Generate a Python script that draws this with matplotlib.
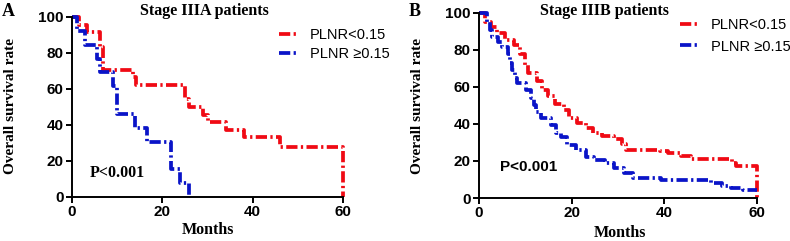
import matplotlib
matplotlib.use('Agg')
import matplotlib.pyplot as plt

# Panel A - Stage IIIA (Kaplan-Meier steps)
a_low_t = [0, 1.5, 3.3, 6.2, 6.9, 13.5, 14.2, 25, 25.8, 29, 30, 34, 38, 46, 60]
a_low_s = [100, 95.8, 91.7, 83.3, 70.8, 66.7, 62.5, 54.2, 50, 45.8, 41.7, 37.5, 33.3, 27.8, 0]
a_high_t = [0, 1.2, 2.9, 5.5, 6.2, 9.1, 9.9, 13.9, 16.7, 21.9, 23.9, 25.9]
a_high_s = [100, 92.3, 84.6, 76.9, 69.2, 61.5, 46.2, 38.5, 30.8, 15.4, 7.7, 0]

# Panel B - Stage IIIB
b_low_t = [0, 1.4, 2.5, 3.8, 5.6, 7.5, 8.8, 10.0, 10.6, 12.5, 13.7, 14.8, 16.5,
           18.3, 19.4, 21.2, 23.1, 24.7, 26.5, 29.2, 30.9, 31.8, 39, 40.8, 43.5,
           45.8, 54.5, 55.5, 60]
b_low_s = [100, 95, 92.6, 89, 85.4, 82.7, 78, 72, 67.6, 63, 58.4, 55, 51,
           47.6, 43, 40.5, 37.8, 35, 33.3, 32, 29, 26, 25.4, 24.3, 22.7,
           21, 19, 17.3, 0]
b_high_t = [0, 1.8, 2.3, 2.8, 4.0, 5.0, 6.2, 6.6, 7.2, 7.8, 8.3, 10.2, 11.2,
            11.8, 12.2, 13.3, 15.5, 16.7, 17.8, 19.0, 21.0, 23.0, 24.8, 27.2,
            29.2, 31.2, 33.2, 39.2, 50.0, 52.5, 54.3, 57.0, 60]
b_high_s = [100, 95, 91, 87, 84.5, 81.6, 78, 73, 69, 65, 62, 58.4, 54,
            50, 46.5, 43, 39.5, 35, 33, 28.6, 26, 22.4, 20.5, 19,
            16, 13.5, 10.8, 9.7, 8, 6.5, 5.4, 4.3, 4.3]

labels = ['PLNR<0.15', 'PLNR \u22650.15']
xticks = [0, 20, 40, 60]
yticks = [0, 20, 40, 60, 80, 100]

RED = '#f00a14'
BLUE = '#0a14c8'
DASH = (0, (3.0, 0.9, 0.6, 0.9))

W, H = 790, 241
fig = plt.figure(figsize=(W / 100, H / 100), dpi=100)


def px(x, y):
    return x / W, 1 - y / H


def setup(ax):
    ax.set_xlim(0, 60)
    ax.set_ylim(0, 100)
    ax.set_xticks(xticks)
    ax.set_yticks(yticks)
    for s in ['top', 'right']:
        ax.spines[s].set_visible(False)
    for s in ['left', 'bottom']:
        ax.spines[s].set_linewidth(1.4)
    ax.tick_params(direction='out', length=4, width=1.4, pad=2)
    for lab in ax.get_xticklabels() + ax.get_yticklabels():
        lab.set_fontfamily('Liberation Sans')
        lab.set_fontweight('bold')
        lab.set_fontsize(11)


# panel A
axA = fig.add_axes([72 / W, 1 - 197 / H, (343 - 72) / W, (197 - 17) / H])
l1, = axA.step(a_low_t, a_low_s, where='post', color=RED, lw=2.7, ls=DASH, clip_on=False)
l2, = axA.step(a_high_t, a_high_s, where='post', color=BLUE, lw=2.7, ls=DASH, clip_on=False)
setup(axA)
axA.legend([l1, l2], labels, loc='upper left', bbox_to_anchor=px(272, 21),
           bbox_transform=fig.transFigure, frameon=False, handlelength=1.3,
           handletextpad=0.8, labelspacing=0.35, borderpad=0,
           prop={'family': 'Liberation Sans', 'size': 10.5})

# panel B
axB = fig.add_axes([479 / W, 1 - 198 / H, (757 - 479) / W, (198 - 13) / H])
m1, = axB.step(b_low_t, b_low_s, where='post', color=RED, lw=2.7, ls=DASH, clip_on=False)
m2, = axB.step(b_high_t, b_high_s, where='post', color=BLUE, lw=2.7, ls=DASH, clip_on=False)
setup(axB)
axB.legend([m1, m2], labels, loc='upper left', bbox_to_anchor=px(673, 11),
           bbox_transform=fig.transFigure, frameon=False, handlelength=1.3,
           handletextpad=0.8, labelspacing=0.5, borderpad=0,
           prop={'family': 'Liberation Sans', 'size': 10.5})

serif = dict(family='Liberation Serif', weight='bold')

fig.text(*px(2, 12), 'A', fontsize=13, ha='left', va='center', **serif)
fig.text(*px(409, 11), 'B', fontsize=13, ha='left', va='center', **serif)
fig.text(*px(204, 11), 'Stage IIIA patients', fontsize=11.5, ha='center', va='center', **serif)
fig.text(*px(604, 11), 'Stage IIIB patients', fontsize=11.5, ha='center', va='center', **serif)
fig.text(*px(11, 106), 'Overall survival rate', fontsize=11, rotation=90,
         ha='center', va='center', **serif)
fig.text(*px(417, 106), 'Overall survival rate', fontsize=11, rotation=90,
         ha='center', va='center', **serif)
fig.text(*px(208, 230), 'Months', fontsize=11.5, ha='center', va='center', **serif)
fig.text(*px(620, 233), 'Months', fontsize=11.5, ha='center', va='center', **serif)
fig.text(*px(90, 173), 'P<0.001', fontsize=11.5, ha='left', va='center', **serif)
fig.text(*px(500, 167), 'P<0.001', fontsize=11, ha='left', va='center',
         family='Liberation Sans', weight='bold')

fig.savefig('out.png', dpi=100)
